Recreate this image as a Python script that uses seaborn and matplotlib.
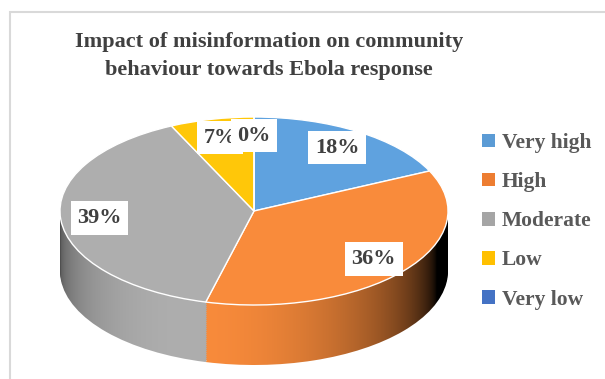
"""
3D-style pie: impact of misinformation on community behaviour towards Ebola response.
"""

import numpy as np
import seaborn as sns
import matplotlib.pyplot as plt
from matplotlib.patches import Patch, Rectangle

categories = ['Very high', 'High', 'Moderate', 'Low', 'Very low']
shares = [18, 36, 39, 7, 0]
top_colors = ['#5FA2DF', '#F98B3B', '#AEAEAE', '#FFC709', '#4472C4']
legend_colors = ['#5B9BD5', '#ED7D31', '#A5A5A5', '#FFC000', '#4472C4']

sns.set_style('white')
plt.rcParams['font.family'] = ['Liberation Serif', 'DejaVu Serif']

W, H = 605, 379
fig = plt.figure(figsize=(W / 100, H / 100), dpi=100)
ax = fig.add_axes([0, 0, 1, 1])

# ellipse geometry in pixels: centre, radii and side depth
CX, CY, RX, RY = 254, 211, 194, 94
depth = 60 / RY


def side_gradient(color):
    # horizontal lighting across the cylinder wall
    xs = np.linspace(-1, 1, 400)
    theta = np.arcsin(xs)
    light = np.arcsin(-0.33)
    f = np.clip(np.cos(theta - light), 0, 1) ** 0.7
    rgb = np.array(plt.matplotlib.colors.to_rgb(color))
    img = np.ones((1, len(xs), 4))
    img[0, :, :3] = rgb[None, :] * f[:, None]
    return img


# side wall: stack of shifted pies, shaded with a gradient
n_layers = 30
for k, off in enumerate(np.linspace(depth, 0, n_layers, endpoint=False)):
    layer, _ = ax.pie(shares, center=(0, -off), startangle=90, counterclock=False,
                      radius=1, wedgeprops=dict(linewidth=0))
    for w, c in zip(layer, top_colors):
        im = ax.imshow(side_gradient(c), extent=(-1, 1, -1 - off, 1 - off),
                       aspect='auto', interpolation='bilinear', zorder=1 + k * 0.01)
        im.set_clip_path(w)
        w.set_visible(False)

# top face
wedges, _, autotexts = ax.pie(
    shares, colors=top_colors, startangle=90, counterclock=False,
    autopct='%1.0f%%', pctdistance=0.8,
    wedgeprops=dict(edgecolor='white', linewidth=1),
    textprops=dict(fontsize=16, fontweight='bold', color='#404040'))
for w in wedges:
    w.set_zorder(5)
for t in autotexts:
    t.set_zorder(6)
    t.set_bbox(dict(boxstyle='square,pad=0.3', facecolor='white', edgecolor='none'))

ax.set_aspect('auto')
ax.set_xlim(-CX / RX, (W - CX) / RX)
ax.set_ylim((CY - H) / RY, CY / RY)
ax.axis('off')

# title
fig.text(269 / W, 1 - 47 / H, 'Impact of misinformation on community',
         ha='center', va='baseline', fontsize=16, fontweight='bold', color='#404040')
fig.text(269 / W, 1 - 75 / H, 'behaviour towards Ebola response',
         ha='center', va='baseline', fontsize=16, fontweight='bold', color='#404040')

# legend
handles = [Patch(facecolor=c, edgecolor='none') for c in legend_colors]
fig.legend(handles, categories, loc='upper left', bbox_to_anchor=(482 / W, 1 - 133 / H),
           frameon=False, borderpad=0, borderaxespad=0,
           prop=dict(family='Liberation Serif', weight='bold', size=15.5),
           labelcolor='#595959', handlelength=0.6, handleheight=0.6,
           handletextpad=0.33, labelspacing=0.89)

# chart border
fig.patches.append(Rectangle((9.5 / W, -0.1), 1.2, 1.1 - 12 / H, transform=fig.transFigure,
                             fill=False, edgecolor='#d9d9d9', linewidth=1.5))

plt.savefig('out.png', dpi=100)
